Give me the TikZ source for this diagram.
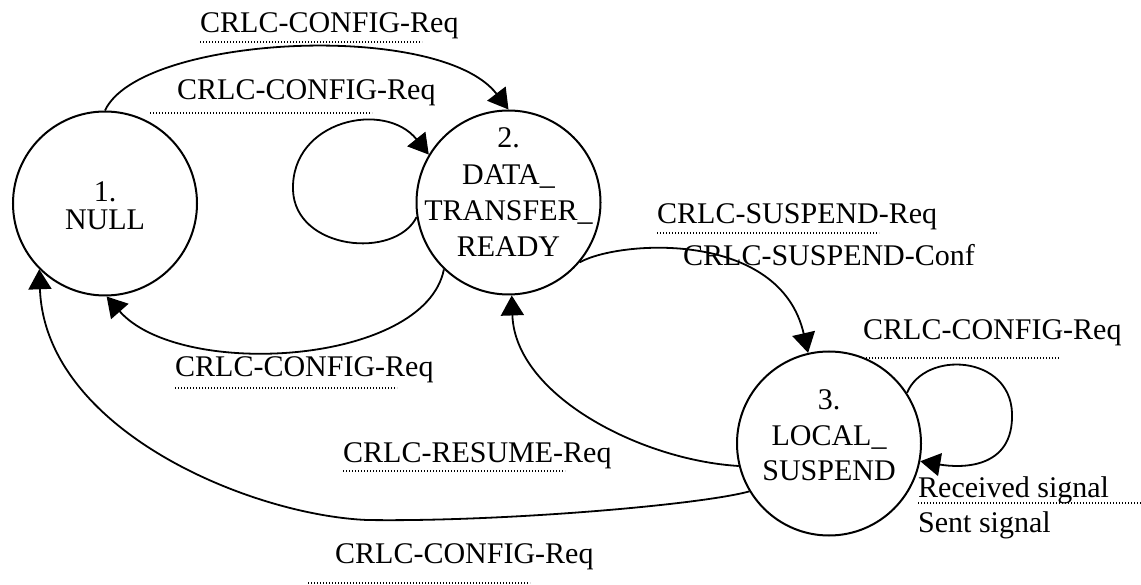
\documentclass[tikz,border=0pt]{standalone}
\usepackage{fontspec}
\setmainfont{Liberation Serif}
\usetikzlibrary{arrows.meta}
\begin{document}
\begin{tikzpicture}[x=1pt,y=-1pt,
  state/.style={circle,draw,line width=2pt,fill=white,minimum size=184pt,inner sep=0pt},
  stext/.style={align=center,inner sep=0pt},
  lab/.style={anchor=base west,inner sep=0pt,font=\fontsize{30}{36}\selectfont},
  conn/.style={line width=1.8pt,-{Triangle[length=20pt,width=23pt]}},
  sigline/.style={line width=1.3pt,dash pattern=on 1.3pt off 1.7pt}]
\useasboundingbox (0,0) rectangle (1141,585);

% states
\node[state] (n1) at (105,203.5) {};
\node[state] (n2) at (508.5,202.5) {};
\node[state] (n3) at (829,443.5) {};
\node[stext,font=\fontsize{30}{28}\selectfont] (t1) at (105,205.9) {1.\\NULL};
\node[stext,font=\fontsize{30}{36.3}\selectfont] (t2) at (508.5,192.4) {2.\\DATA\_\\TRANSFER\_\\READY};
\node[stext,font=\fontsize{30}{35.5}\selectfont] (t3) at (829,435.4) {3.\\LOCAL\_\\SUSPEND};

% labels
\node[lab] (l1) at (200,33) {CRLC-CONFIG-Req};
\node[lab] (l2) at (177,100) {CRLC-CONFIG-Req};
\node[lab] (l3) at (175,377) {CRLC-CONFIG-Req};
\node[lab] (l4) at (657,224) {CRLC-SUSPEND-Req};
\node[lab] (l5) at (683,266) {CRLC-SUSPEND-Conf};
\node[lab] (l6) at (863,340) {CRLC-CONFIG-Req};
\node[lab] (l7) at (918,497) {Received signal};
\node[lab] (l8) at (918,532) {Sent signal};
\node[lab] (l9) at (343,462) {CRLC-RESUME-Req};
\node[lab] (l10) at (335,563) {CRLC-CONFIG-Req};

% signal separator lines
\draw[sigline] ([yshift=-9pt]l1.base west) -- ++(222,0);
\draw[sigline] ([xshift=-27pt,yshift=-13pt]l2.base west) -- ++(222,0);
\draw[sigline] ([yshift=-11pt]l3.base west) -- ++(222,0);
\draw[sigline] ([yshift=-9pt]l4.base west) -- ++(222,0);
\draw[sigline] ([xshift=3pt,yshift=-18pt]l6.base west) -- ++(194,0);
\draw[sigline] ([yshift=-6pt]l7.base west) -- ++(223,0);
\draw[sigline] ([yshift=-9pt]l9.base west) -- ++(222,0);
\draw[sigline] ([xshift=-27pt,yshift=-20pt]l10.base west) -- ++(222,0);

% connectors
\coordinate (lp2) at (293,190);
\coordinate (bl) at (367,520);
\coordinate (rl) at (1012,413);
\draw[conn] (n1.90) .. controls (140,35) and (440,20) .. (n2.90);
\draw[conn] (n2.189) .. controls (395,260) and (295,250) .. (lp2) .. controls (291,120) and (385,100) .. (n2.149);
\draw[conn] (n2.-40) .. controls (620,240) and (780,230) .. (n3.103);
\draw[conn] (n2.226) .. controls (425,365) and (180,380) .. (n1.-89);
\draw[conn] (n3.194) .. controls (640,460) and (515,395) .. (n2.-88);
\draw[conn] (n3.211) .. controls (700,505) and (500,522) .. (bl) .. controls (250,515) and (45,430) .. (n1.225);
\draw[conn] (n3.33) .. controls (925,350) and (1010,355) .. (rl) .. controls (1014,470) and (960,468) .. (n3.-11);
\end{tikzpicture}
\end{document}
